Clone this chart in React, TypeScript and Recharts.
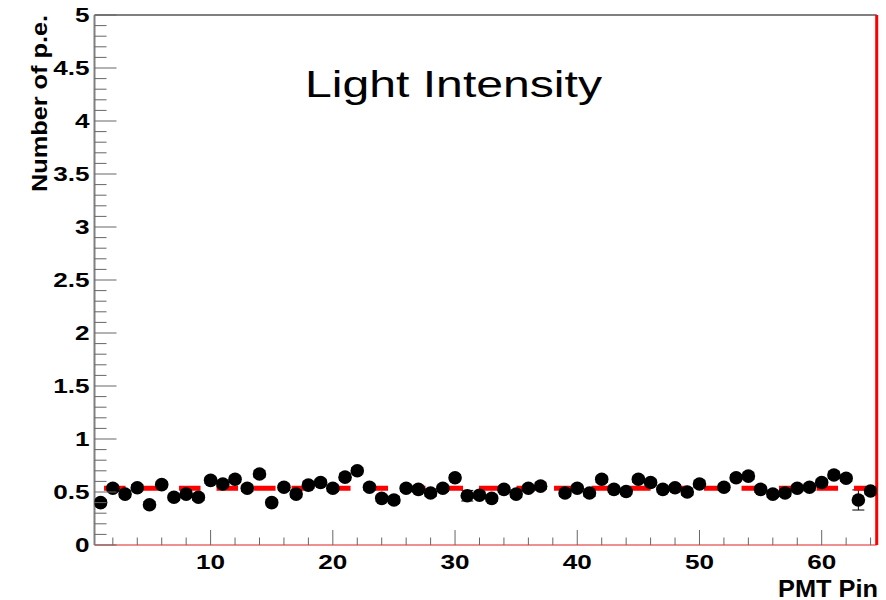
import React from 'react';
import { ComposedChart, Scatter, XAxis, YAxis, ErrorBar, ReferenceLine } from 'recharts';

const pins: number[] = Array.from({ length: 64 }, (_, i) => i + 1);
const values: (number | null)[] = [
  0.40, 0.535, 0.48, 0.54, 0.38, 0.57, 0.45, 0.48, 0.45, 0.61,
  0.575, 0.62, 0.535, 0.67, 0.40, 0.545, 0.48, 0.565, 0.59, 0.535,
  0.64, 0.70, 0.545, 0.44, 0.425, 0.535, 0.525, 0.49, 0.535, 0.635,
  0.465, 0.47, 0.44, 0.525, 0.48, 0.535, 0.555, null, 0.49, 0.535,
  0.49, 0.62, 0.525, 0.505, 0.62, 0.59, 0.525, 0.54, 0.50, 0.575,
  null, 0.545, 0.635, 0.65, 0.525, 0.48, 0.49, 0.535, 0.545, 0.59,
  0.66, 0.63, 0.425, 0.51,
];
const errors: number[] = pins.map((p) => (p === 31 ? 0.05 : p === 63 ? 0.095 : 0.03));

const fitValue = 0.535;
const fitRange: [number, number] = [1.28, 64.13];

const xTicks: number[] = Array.from({ length: 32 }, (_, i) => (i + 1) * 2);
const yTicks: number[] = Array.from({ length: 51 }, (_, i) => i / 10);

const title = 'Light Intensity';
const xTitle = 'PMT Pin';
const yTitle = 'Number of p.e.';

const points = pins
  .map((pin, i) => ({ pin, val: values[i], err: errors[i] }))
  .filter((d) => d.val !== null);

const W = 886;
const H = 600;
// plot area: x 94.5..876.7, y 15..545 (axes take 1px each)
const margin = { top: 14, right: 8.3, bottom: 54, left: 93.5 };
const axisX = 94.5;
const axisY = 545;
const tickColor = '#666666';
const font = '"Liberation Sans", Arial, Helvetica, sans-serif';

const XTick = (props: any) => {
  const { x, payload } = props;
  const v = payload.value as number;
  const major = v % 10 === 0;
  return (
    <g>
      <line x1={x} x2={x} y1={axisY} y2={axisY - (major ? 15 : 7.5)} stroke={tickColor} strokeWidth={1} />
      {major && (
        <text
          transform={`translate(${x},${axisY + 23.8}) scale(1.34,1)`}
          textAnchor="middle"
          fontFamily={font}
          fontWeight="bold"
          fontSize={19.5}
          fill="#000"
        >
          {v}
        </text>
      )}
    </g>
  );
};

const YTick = (props: any) => {
  const { y, payload } = props;
  const v = payload.value as number;
  const major = Math.abs(v * 2 - Math.round(v * 2)) < 1e-6;
  return (
    <g>
      <line x1={axisX} x2={axisX + (major ? 22 : 12)} y1={y} y2={y} stroke={tickColor} strokeWidth={1} />
      {major && (
        <text
          transform={`translate(${axisX - 5},${y + 7}) scale(1.34,1)`}
          textAnchor="end"
          fontFamily={font}
          fontWeight="bold"
          fontSize={19.5}
          fill="#000"
        >
          {String(Math.round(v * 10) / 10)}
        </text>
      )}
    </g>
  );
};

const Dot = (props: any) => {
  const { cx, cy } = props;
  if (cx == null || cy == null) return null;
  return <circle cx={cx} cy={cy} r={6.8} fill="#000" />;
};

export default function App() {
  return (
    <div style={{ position: 'absolute', left: 0, top: 0, width: W, height: H, background: '#fff', overflow: 'hidden' }}>
      <ComposedChart width={W} height={H} margin={margin}>
        <XAxis
          xAxisId="b"
          type="number"
          dataKey="pin"
          domain={[0.5, 64.5]}
          ticks={xTicks}
          interval={0}
          tick={<XTick />}
          tickLine={false}
          axisLine={{ stroke: '#e02020', strokeWidth: 1.2 }}
          height={1}
          allowDataOverflow
        />
        <XAxis
          xAxisId="t"
          orientation="top"
          type="number"
          domain={[0.5, 64.5]}
          tick={false}
          tickLine={false}
          axisLine={{ stroke: '#808080', strokeWidth: 2 }}
          height={1}
        />
        <YAxis
          yAxisId="l"
          type="number"
          dataKey="val"
          domain={[0, 5]}
          ticks={yTicks}
          interval={0}
          tick={<YTick />}
          tickLine={false}
          axisLine={{ stroke: '#808080', strokeWidth: 2 }}
          width={1}
          allowDataOverflow
        />
        <YAxis
          yAxisId="r"
          orientation="right"
          type="number"
          domain={[0, 5]}
          tick={false}
          tickLine={false}
          axisLine={{ stroke: '#ff0000', strokeWidth: 3 }}
          width={1}
        />
        <Scatter
          xAxisId="b"
          yAxisId="l"
          data={points}
          dataKey="val"
          shape={<Dot />}
          isAnimationActive={false}
        >
          <ErrorBar dataKey="err" direction="y" width={6} stroke="#000" strokeWidth={1} />
        </Scatter>
        <ReferenceLine
          xAxisId="b"
          yAxisId="l"
          segment={[
            { x: fitRange[0], y: fitValue },
            { x: fitRange[1], y: fitValue },
          ]}
          stroke="#ff0000"
          strokeWidth={5}
          strokeDasharray="21.5 16"
          ifOverflow="visible"
        />
      </ComposedChart>
      <svg width={W} height={H} style={{ position: 'absolute', left: 0, top: 0, pointerEvents: 'none' }}>
        <text
          x={305}
          y={97}
          fontFamily={font}
          fontSize={37}
          textLength={297}
          lengthAdjust="spacingAndGlyphs"
          fill="#000"
        >
          {title}
        </text>
        <text
          x={878}
          y={596.5}
          textAnchor="end"
          fontFamily={font}
          fontWeight="bold"
          fontSize={23}
          textLength={100}
          lengthAdjust="spacingAndGlyphs"
          fill="#000"
        >
          {xTitle}
        </text>
        <text
          transform="translate(46.5,192) rotate(-90)"
          fontFamily={font}
          fontWeight="bold"
          fontSize={22}
          textLength={177}
          lengthAdjust="spacingAndGlyphs"
          fill="#000"
        >
          {yTitle}
        </text>
      </svg>
    </div>
  );
}
